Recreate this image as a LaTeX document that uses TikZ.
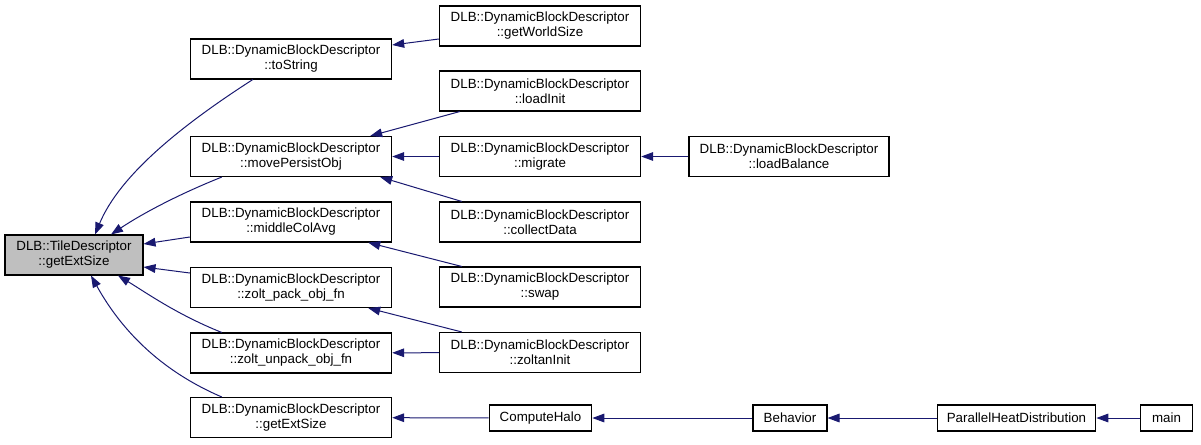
\documentclass[tikz,border=0pt]{standalone}
\usepackage{fontspec}
\setmainfont{Liberation Sans}
\usetikzlibrary{arrows.meta, calc}
\definecolor{edgeblue}{HTML}{191970}
\definecolor{rootgray}{HTML}{BFBFBF}
\tikzset{
	fn/.style={draw, line width=0.8pt, fill=white, inner sep=0pt, align=center,
		font=\fontsize{10}{11.25}\selectfont},
	fnwide/.style={fn, minimum width=151pt, minimum height=30pt},
	fnshort/.style={fn, minimum height=19.5pt},
	rootfn/.style={fn, fill=rootgray, minimum width=103.5pt, minimum height=30pt},
	call/.style={draw=edgeblue, line width=0.75pt, -{Triangle[length=9pt,width=6.5pt]}}
}
\begin{document}
\begin{tikzpicture}[x=0.75pt, y=-0.75pt]
		\useasboundingbox (0,0) rectangle (1201,444);
		
		% Function whose callers are shown
		\node[rootfn] (tiledesc) at (74,255) {DLB::TileDescriptor\\::getExtSize};
		
		% Direct callers
		\node[fnwide] (tostring) at (291,59) {DLB::DynamicBlockDescriptor\\::toString};
		\node[fnwide] (movepersist) at (291,156.5) {DLB::DynamicBlockDescriptor\\::movePersistObj};
		\node[fnwide] (middlecol) at (291,222) {DLB::DynamicBlockDescriptor\\::middleColAvg};
		\node[fnwide] (zoltpack) at (291,287.5) {DLB::DynamicBlockDescriptor\\::zolt\_pack\_obj\_fn};
		\node[fnwide] (zoltunpack) at (291,353) {DLB::DynamicBlockDescriptor\\::zolt\_unpack\_obj\_fn};
		\node[fnwide] (dynextsize) at (291,417.5) {DLB::DynamicBlockDescriptor\\::getExtSize};
		
		% Second level
		\node[fnwide] (worldsize) at (540,26) {DLB::DynamicBlockDescriptor\\::getWorldSize};
		\node[fnwide] (loadinit) at (540,91) {DLB::DynamicBlockDescriptor\\::loadInit};
		\node[fnwide] (migrate) at (540,156.5) {DLB::DynamicBlockDescriptor\\::migrate};
		\node[fnwide] (collect) at (540,222) {DLB::DynamicBlockDescriptor\\::collectData};
		\node[fnwide] (swap) at (540,287) {DLB::DynamicBlockDescriptor\\::swap};
		\node[fnwide] (zoltaninit) at (540,352.5) {DLB::DynamicBlockDescriptor\\::zoltanInit};
		\node[fnshort, minimum width=77pt] (computehalo) at (540.5,418) {ComputeHalo};
		
		% Further levels
		\node[fnwide, minimum width=150pt] (loadbal) at (789,156.5) {DLB::DynamicBlockDescriptor\\::loadBalance};
		\node[fnshort, minimum width=55.5pt] (behavior) at (790,418) {Behavior};
		\node[fnshort, minimum width=119pt] (parheat) at (1016.5,418) {ParallelHeatDistribution};
		\node[fnshort, minimum width=38.5pt] (mainfn) at (1166.5,418) {main};
		
		% Calls into the root (curved ones leave from top and bottom)
		\draw[call] ($(tostring.south west)+(63,0)$) .. controls +(-70,45) and +(25,-60) .. ($(tiledesc.north)+(21,0)$);
		\draw[call] ($(movepersist.south west)+(32,0)$) .. controls +(-45,18) and +(30,-20) .. ($(tiledesc.north)+(37,0)$);
		\draw[call] ($(middlecol.west)+(0,15)$) -- ($(tiledesc.east)+(0,-11)$);
		\draw[call] ($(zoltpack.west)+(0,-14.5)$) -- ($(tiledesc.east)+(0,12)$);
		\draw[call] ($(zoltunpack.north west)+(32,0)$) .. controls +(-45,-18) and +(28,17) .. ($(tiledesc.south)+(44,0)$);
		\draw[call] ($(dynextsize.north west)+(32,0)$) .. controls +(-70,-30) and +(25,45) .. ($(tiledesc.south)+(17,0)$);
		
		% Second level calls
		\draw[call] ($(worldsize.west)+(0,13)$) -- ($(tostring.east)+(0,-14)$);
		\draw[call] ($(loadinit.south west)+(21,0)$) -- ($(movepersist.north east)+(-22,0)$);
		\draw[call] (migrate) -- (movepersist);
		\draw[call] ($(collect.north west)+(23,0)$) -- ($(movepersist.south east)+(-12,0)$);
		\draw[call] ($(swap.north west)+(23,0)$) -- ($(middlecol.south east)+(-24,0)$);
		\draw[call] ($(zoltaninit.north west)+(23,0)$) -- ($(zoltpack.south east)+(-24,0)$);
		\draw[call] (zoltaninit) -- (zoltunpack);
		\draw[call] (computehalo) -- (dynextsize);
		
		% Chain from main
		\draw[call] (loadbal) -- (migrate);
		\draw[call] (behavior) -- (computehalo);
		\draw[call] (parheat) -- (behavior);
		\draw[call] (mainfn) -- (parheat);
		
	\end{tikzpicture}
\end{document}
